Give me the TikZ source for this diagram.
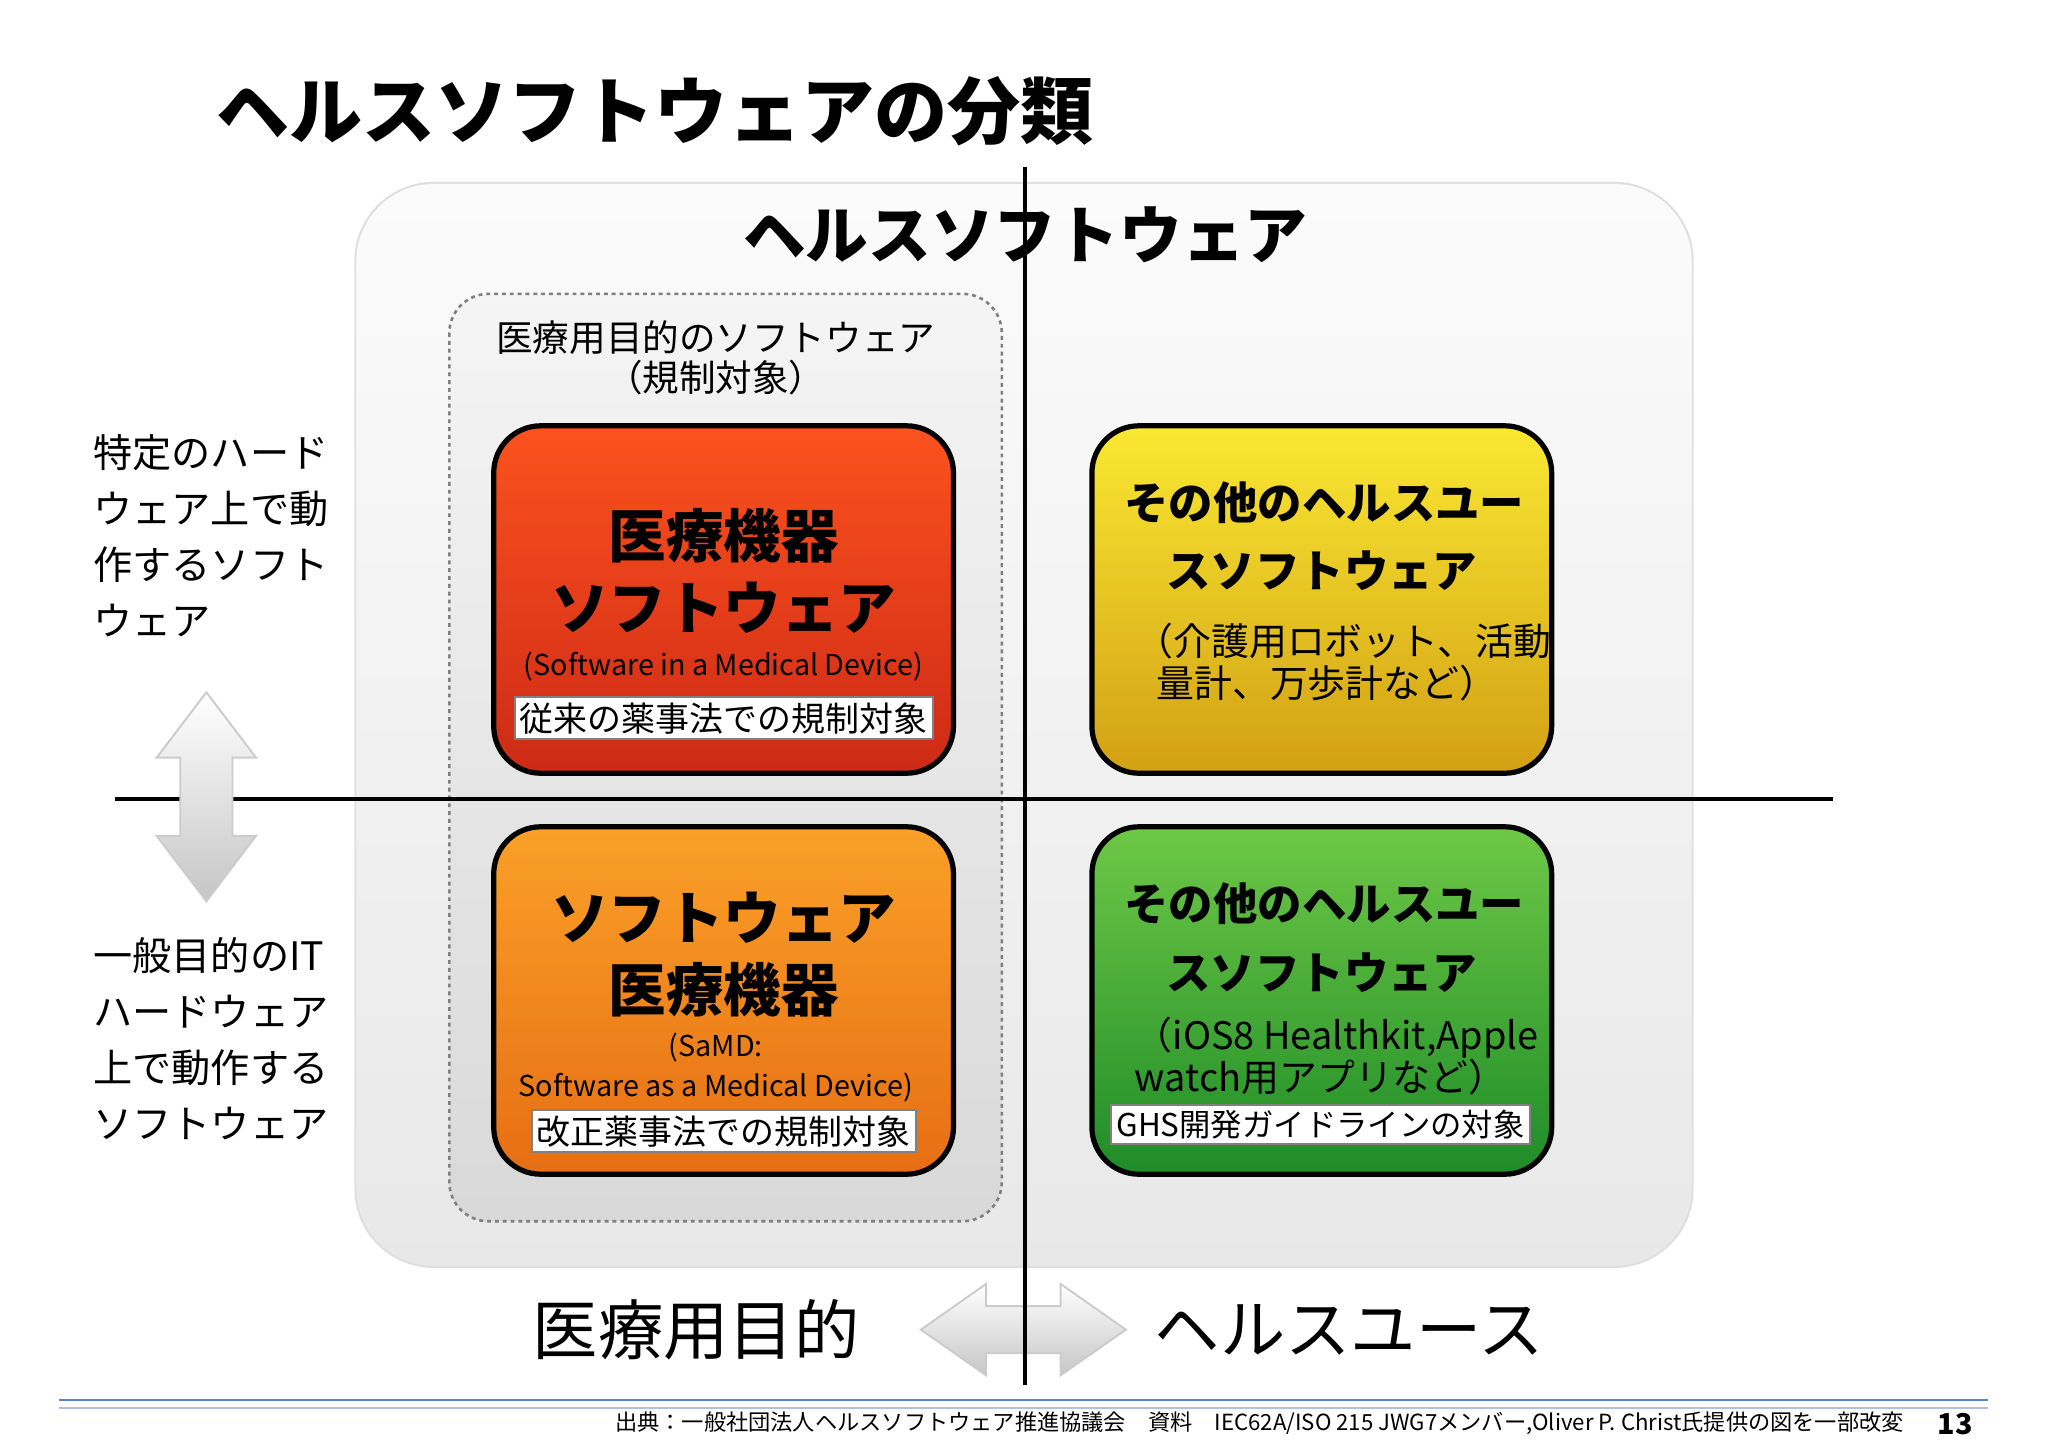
\documentclass[tikz,border=0pt]{standalone}
\usepackage{fontspec}
\setmainfont{Noto Sans CJK JP}
\usetikzlibrary{positioning}

\definecolor{redtop}{RGB}{252,82,30}
\definecolor{redbot}{RGB}{205,42,22}
\definecolor{yeltop}{RGB}{250,232,50}
\definecolor{yelbot}{RGB}{210,160,20}
\definecolor{orgtop}{RGB}{250,160,40}
\definecolor{orgbot}{RGB}{230,110,20}
\definecolor{grntop}{RGB}{110,200,70}
\definecolor{grnbot}{RGB}{30,140,40}
\definecolor{rule}{RGB}{90,130,200}

\tikzset{every picture/.style={line width=0.75pt}}
\tikzset{
  catbox/.style={draw=black,line width=2pt,rounded corners=18pt,minimum width=176pt,minimum height=133pt},
  bigtxt/.style={font=\fontsize{22}{24}\selectfont\bfseries},
  midtxt/.style={font=\fontsize{17}{19}\selectfont\bfseries},
  subtxt/.style={font=\fontsize{11}{13}\selectfont},
  notetxt/.style={font=\fontsize{14.5}{16}\selectfont,align=left},
  tagbox/.style={draw=gray,fill=white,inner sep=2pt,font=\fontsize{13}{15}\selectfont},
  sidetxt/.style={font=\fontsize{15}{21.5}\selectfont,align=left,anchor=north west},
  arrowshape/.style={draw=gray!40,top color=white,bottom color=gray!45}
}

\begin{document}
\begin{tikzpicture}[x=0.5pt,y=-0.5pt]
    \useasboundingbox (0,0) rectangle (1568,1108);
    \fill[white] (0,0) rectangle (1568,1108);

    % Title
    \node[anchor=west,font=\fontsize{28}{30}\selectfont\bfseries] (title) at (158,85) {ヘルスソフトウェアの分類};

    % Outer area
    \shade[rounded corners=30pt,draw=gray!25,top color=gray!3,bottom color=gray!18] (272,140) rectangle (1296,970);
    \node[font=\fontsize{24}{26}\selectfont\bfseries] (health) at (785,180) {ヘルスソフトウェア};

    % Medical purpose area
    \shade[rounded corners=15pt,draw=gray,dash pattern=on 1.5pt off 1.5pt,line width=1pt,top color=gray!8,bottom color=gray!30] (344,225) rectangle (767,935);
    \node[align=center,font=\fontsize{14}{15}\selectfont] (medsw) at (548,274) {医療用目的のソフトウェア\\（規制対象）};

    % Boxes
    \node[catbox,top color=redtop,bottom color=redbot] (samd1) at (554,459) {};
    \node[catbox,top color=yeltop,bottom color=yelbot] (other1) at (1012,459) {};
    \node[catbox,top color=orgtop,bottom color=orgbot] (samd2) at (554,766) {};
    \node[catbox,top color=grntop,bottom color=grnbot] (other2) at (1012,766) {};

    % Red box text
    \node[bigtxt] (r1) at (554,410) {医療機器};
    \node[bigtxt] (r2) at (554,465) {ソフトウェア};
    \node[subtxt] (r3) at (554,510) {(Software in a Medical Device)};
    \node[tagbox,minimum width=160pt] (r4) at (554,550) {従来の薬事法での規制対象};

    % Yellow box text
    \node[midtxt] (y1) at (1014,385) {その他のヘルスユー};
    \node[midtxt] (y2) at (1012,437) {スソフトウェア};
    \node[notetxt,anchor=north west] (y3) at (862,470) {（介護用ロボット、活動\\\hspace*{8pt}量計、万歩計など）};

    % Orange box text
    \node[bigtxt] (o1) at (554,703) {ソフトウェア};
    \node[bigtxt] (o2) at (554,758) {医療機器};
    \node[subtxt] (o3) at (548,802) {(SaMD:};
    \node[subtxt] (o4) at (548,833) {Software as a Medical Device)};
    \node[tagbox,minimum width=146pt] (o5) at (554,866) {改正薬事法での規制対象};

    % Green box text
    \node[midtxt] (g1) at (1014,692) {その他のヘルスユー};
    \node[midtxt] (g2) at (1012,745) {スソフトウェア};
    \node[notetxt,anchor=north west,inner sep=0pt] (g3) at (868,778) {（iOS8 Healthkit,Apple\\watch用アプリなど）};
    \node[tagbox,minimum width=156pt,font=\fontsize{12}{14}\selectfont] (g4) at (1011,861) {GHS開発ガイドラインの対象};

    % Axes
    \coordinate (vtop) at (785,128);
    \coordinate (vbot) at (785,1060);
    \coordinate (hleft) at (88,612);
    \coordinate (hright) at (1403,612);
    \draw[line width=1.5pt] (vtop) -- (vbot);
    \draw[line width=1.5pt] (hleft) -- (hright);

    % Side labels
    \node[sidetxt] (hwspec) at (64,325) {特定のハード\\ウェア上で動\\作するソフト\\ウェア};
    \node[sidetxt] (hwgen) at (64,710) {一般目的のIT\\ハードウェア\\上で動作する\\ソフトウェア};

    % Double arrows
    \shade[arrowshape] (158,530) -- (196,580) -- (178,580) -- (178,640) -- (196,640) -- (158,690) -- (120,640) -- (138,640) -- (138,580) -- (120,580) -- cycle;
    \shade[arrowshape] (705,1018) -- (755,983) -- (755,1000) -- (812,1000) -- (812,983) -- (862,1018) -- (812,1053) -- (812,1036) -- (755,1036) -- (755,1053) -- cycle;
    \draw[line width=1.5pt] (785,990) -- (vbot);

    % Bottom labels
    \node[font=\fontsize{25}{27}\selectfont] (medpurp) at (533,1018) {医療用目的};
    \node[font=\fontsize{25}{27}\selectfont] (healthuse) at (1033,1018) {ヘルスユース};

    % Footer
    \coordinate (rl) at (45,1072);
    \coordinate (rr) at (1522,1072);
    \draw[rule,line width=0.8pt] (rl) -- (rr);
    \draw[rule!50,line width=0.5pt] ([yshift=-3pt]rl) -- ([yshift=-3pt]rr);
    \node[anchor=east,font=\fontsize{8.5}{10}\selectfont] (src) at (1465,1090) {出典：一般社団法人ヘルスソフトウェア推進協議会\quad 資料\quad IEC62A/ISO 215 JWG7メンバー,Oliver P. Christ氏提供の図を一部改変};
    \node[font=\fontsize{11}{12}\selectfont\bfseries] (page) at (1497,1090) {13};
\end{tikzpicture}
\end{document}
